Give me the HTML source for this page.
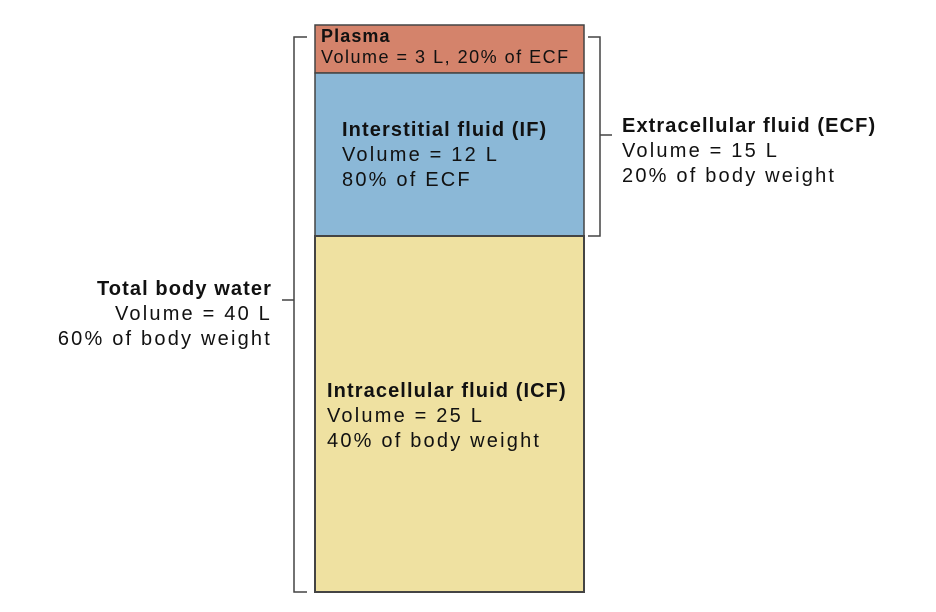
<!DOCTYPE html>
<html><head><style>
body{margin:0;width:936px;height:612px;background:#fff;font-family:"Liberation Sans","DejaVu Sans",sans-serif;color:#111;position:relative;overflow:hidden}
.t{position:absolute;font-size:20px;line-height:25px;white-space:nowrap;letter-spacing:2.2px}
b{font-weight:bold;letter-spacing:1.1px}
</style></head><body>
<svg width="936" height="612" style="position:absolute;left:0;top:0">
<rect x="315" y="25" width="269" height="48" fill="#d4836b" stroke="#444" stroke-width="1.5"/>
<rect x="315" y="73" width="269" height="163" fill="#8bb8d7" stroke="#444" stroke-width="1.5"/>
<rect x="315" y="236" width="269" height="356" fill="#efe1a1" stroke="#444" stroke-width="2"/>
<path d="M307 37 H294 V592 H307 M294 300 H282" fill="none" stroke="#444" stroke-width="1.5"/>
<path d="M588 37 H600 V236 H588 M600 135 H612" fill="none" stroke="#444" stroke-width="1.5"/>
</svg>
<div class="t" style="left:321px;top:26px;line-height:21px;font-size:18px;letter-spacing:1.5px"><b>Plasma</b><br>Volume = 3 L, 20% of ECF</div>
<div class="t" style="left:342px;top:118px"><b>Interstitial fluid (IF)</b><br>Volume = 12 L<br>80% of ECF</div>
<div class="t" style="left:327px;top:379px"><b>Intracellular fluid (ICF)</b><br>Volume = 25 L<br>40% of body weight</div>
<div class="t" style="left:622px;top:114px"><b>Extracellular fluid (ECF)</b><br>Volume = 15 L<br>20% of body weight</div>
<div class="t" style="right:664px;top:277px;text-align:right"><b>Total body water</b><br>Volume = 40 L<br>60% of body weight</div>
</body></html>
